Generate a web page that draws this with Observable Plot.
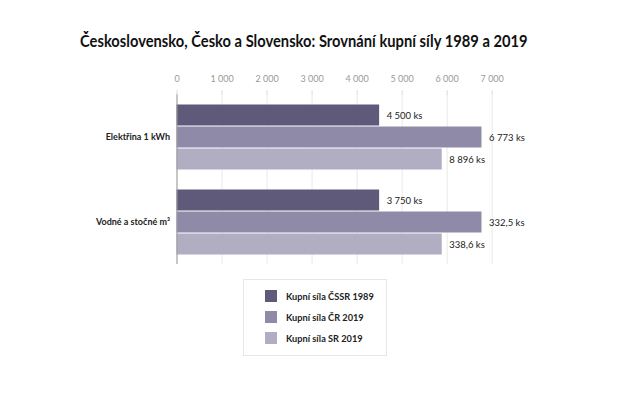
<!DOCTYPE html>
<html>
<head>
<meta charset="utf-8">
<script src="https://cdn.jsdelivr.net/npm/d3@7"></script>
<script src="https://cdn.jsdelivr.net/npm/@observablehq/plot@0.6"></script>
<style>
  html, body { margin: 0; padding: 0; background: #fff; }
  #wrap { position: relative; width: 630px; height: 394px; overflow: hidden; font-family: Lato, "Noto Sans", sans-serif; }
  #title { position: absolute; left: 80px; top: 30px; font-size: 17px; font-weight: bold; color: #111; white-space: nowrap; transform: scaleX(0.865); transform-origin: 0 0; }
  #chart { position: absolute; left: 0; top: 0; }
  #legend { position: absolute; left: 243px; top: 279px; width: 144px; height: 77px; border: 1px solid #e6e6e6; box-sizing: border-box; }
  .row { position: absolute; left: 21px; display: flex; align-items: center; font-size: 10px; font-weight: bold; color: #222; white-space: nowrap; }
  .row span { display: inline-block; transform: scaleX(0.92); transform-origin: 0 50%; }
  .sw { width: 12px; height: 12px; margin-right: 9px; }
</style>
</head>
<body>
<div id="wrap">
  <div id="title"></div>
  <div id="chart"></div>
  <div id="legend"></div>
</div>
<script>
const titleText = "Československo, Česko a Slovensko: Srovnání kupní síly 1989 a 2019";
const categories = ["Elektřina 1 kWh", "Vodné a stočné m³"];
const series = ["Kupní síla ČSSR 1989", "Kupní síla ČR 2019", "Kupní síla SR 2019"];
const barValuesElektrina = [4500, 6773, 5890];
const barValuesVodne = [4500, 6773, 5890];
const labelsElektrina = ["4 500 ks", "6 773 ks", "8 896 ks"];
const labelsVodne = ["3 750 ks", "332,5 ks", "338,6 ks"];
const colors = ["#5f5a79", "#8f8aa8", "#b1aec4"];
const xTicks = [0, 1000, 2000, 3000, 4000, 5000, 6000, 7000];

const barValues = [barValuesElektrina, barValuesVodne];
const labelTexts = [labelsElektrina, labelsVodne];
const data = [];
categories.forEach((c, i) => series.forEach((s, j) => data.push({category: c, series: s, value: barValues[i][j], label: labelTexts[i][j]})));

const fmt = d => d3.format(",")(d).replace(/,/g, " ");

document.getElementById("title").textContent = titleText;

const chart = Plot.plot({
  width: 630,
  height: 394,
  marginLeft: 176.5,
  marginRight: 138.3,
  marginTop: 94,
  marginBottom: 130,
  style: {fontFamily: "Lato, 'Noto Sans', sans-serif", background: "transparent"},
  x: {domain: [0, 7000]},
  y: {domain: series, paddingInner: 0, paddingOuter: 0.348, axis: null},
  fy: {domain: categories, padding: 0},
  color: {domain: series, range: colors},
  marks: [
    Plot.ruleX(xTicks, {stroke: "#e9e9e9", strokeWidth: 1}),
    Plot.barX(data, {x: "value", y: "series", fy: "category", fill: "series", insetTop: 0.5, insetBottom: 0.5}),
    Plot.ruleX([0], {stroke: "#999", strokeWidth: 1}),
    Plot.text(data, {x: "value", y: "series", fy: "category", text: "label", dx: 7, textAnchor: "start", fontSize: 9.5, fill: "#222"}),
    Plot.axisX({anchor: "top", ticks: xTicks, tickFormat: fmt, tickSize: 5, tickPadding: 8, fontSize: 9, color: "#999", stroke: "#ddd", label: null}),
    Plot.axisFy({anchor: "left", tickSize: 0, tickPadding: 7, fontSize: 9, fontWeight: "bold", fill: "#222", label: null})
  ]
});
document.getElementById("chart").appendChild(chart);

const legend = document.getElementById("legend");
series.forEach((s, i) => {
  const row = document.createElement("div");
  row.className = "row";
  row.style.top = (10 + i * 21) + "px";
  const sw = document.createElement("div");
  sw.className = "sw";
  sw.style.background = colors[i];
  const t = document.createElement("span");
  t.textContent = s;
  row.appendChild(sw);
  row.appendChild(t);
  legend.appendChild(row);
});
</script>
</body>
</html>
